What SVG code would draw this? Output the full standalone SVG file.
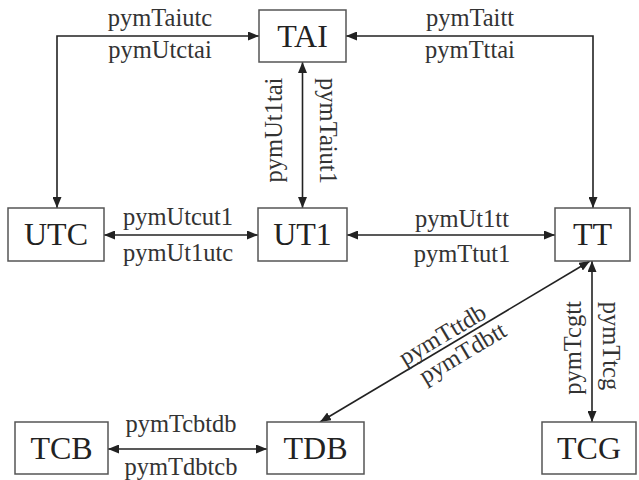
<svg xmlns="http://www.w3.org/2000/svg" width="639" height="480" viewBox="0 0 639 480">
<defs>
<marker id="ah" viewBox="0 0 11 9" refX="11" refY="4.5" markerWidth="11" markerHeight="9" markerUnits="userSpaceOnUse" orient="auto-start-reverse">
<path d="M0,0 L11,4.5 L0,9 Z" fill="#222"/>
</marker>
</defs>
<style>
.box{fill:#fff;stroke:#555;stroke-width:1.5}
.nt{font-family:"Liberation Serif","Times New Roman",serif;font-size:32px;fill:#222;text-anchor:middle}
.lb{font-family:"Liberation Serif","Times New Roman",serif;font-size:24.5px;fill:#333;text-anchor:middle}
.cn{fill:none;stroke:#222;stroke-width:1.6;marker-start:url(#ah);marker-end:url(#ah)}
</style>
<rect width="639" height="480" fill="#fff"/>
<g id="connectors">
<path class="cn" d="M259,36 H57 V208"/>
<path class="cn" d="M346,36 H593 V208"/>
<path class="cn" d="M302.5,62 V208"/>
<path class="cn" d="M104,235 H258"/>
<path class="cn" d="M347,235 H555"/>
<path class="cn" d="M592,261 V422"/>
<path class="cn" d="M590,261 L320,422"/>
<path class="cn" d="M108,449 H267"/>
<text class="lb" x="160" y="26">pymTaiutc</text>
<text class="lb" x="160" y="58">pymUtctai</text>
<text class="lb" x="470" y="26">pymTaitt</text>
<text class="lb" x="470" y="58">pymTttai</text>
<text class="lb" transform="translate(282,130) rotate(-90)">pymUt1tai</text>
<text class="lb" transform="translate(320,131) rotate(90)">pymTaiut1</text>
<text class="lb" x="178" y="225">pymUtcut1</text>
<text class="lb" x="178" y="261">pymUt1utc</text>
<text class="lb" x="462" y="227">pymUt1tt</text>
<text class="lb" x="462" y="262">pymTtut1</text>
<text class="lb" transform="translate(452,343) rotate(-30.8)"><tspan x="-4" y="-4">pymTttdb</tspan><tspan x="4" y="22">pymTdbtt</tspan></text>
<text class="lb" transform="translate(581,348) rotate(-90)">pymTcgtt</text>
<text class="lb" transform="translate(603,346) rotate(90)">pymTtcg</text>
<text class="lb" x="181" y="432">pymTcbtdb</text>
<text class="lb" x="181" y="475">pymTdbtcb</text>
</g>
<g id="TAI"><rect class="box" x="259" y="10" width="87" height="52"/><text class="nt" x="302.5" y="47">TAI</text></g>
<g id="UTC"><rect class="box" x="8" y="208" width="96" height="53"/><text class="nt" x="56" y="245">UTC</text></g>
<g id="UT1"><rect class="box" x="258" y="208" width="89" height="53"/><text class="nt" x="302.5" y="245">UT1</text></g>
<g id="TT"><rect class="box" x="555" y="208" width="75" height="53"/><text class="nt" x="592.5" y="245">TT</text></g>
<g id="TCB"><rect class="box" x="15" y="422" width="93" height="52"/><text class="nt" x="61.5" y="459">TCB</text></g>
<g id="TDB"><rect class="box" x="267" y="422" width="97" height="52"/><text class="nt" x="315.5" y="459">TDB</text></g>
<g id="TCG"><rect class="box" x="542" y="422" width="94" height="52"/><text class="nt" x="589" y="459">TCG</text></g>
</svg>
